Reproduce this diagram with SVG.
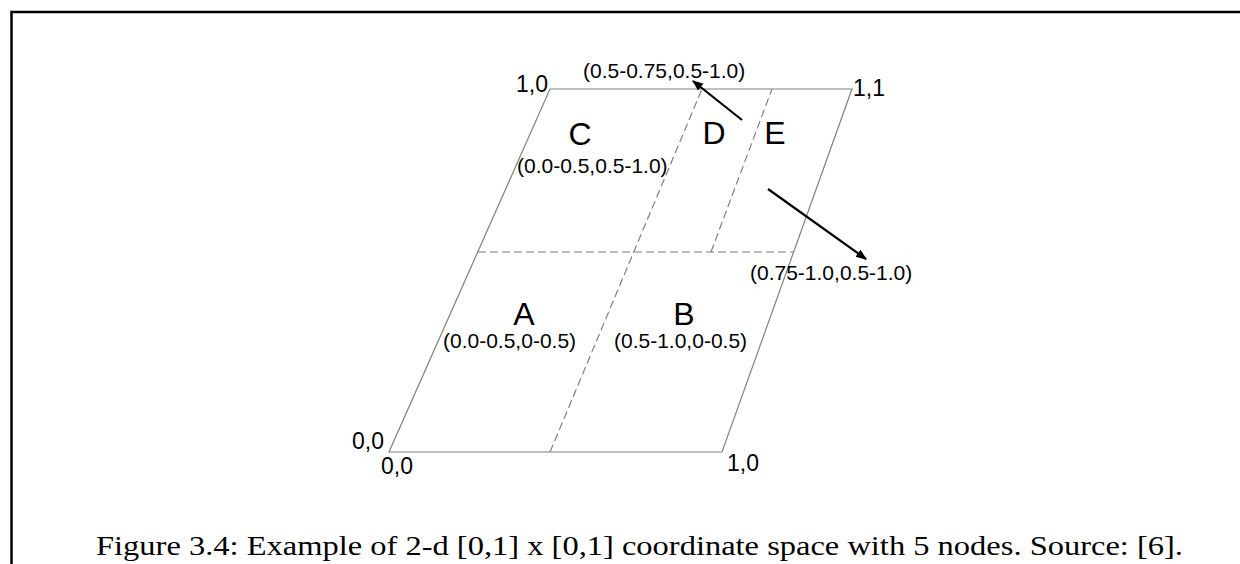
<svg xmlns="http://www.w3.org/2000/svg" width="1240" height="564" viewBox="0 0 1240 564">
<defs>
<style>
.frame{fill:none;stroke:#000;stroke-width:2.5}
.edge{fill:none;stroke:#808080;stroke-width:1.2}
.dash{fill:none;stroke:#808080;stroke-width:1.2;stroke-dasharray:8 4}
.arrow{fill:none;stroke:#000;stroke-width:2.2;marker-end:url(#ah)}
.corner{font-family:"Liberation Sans",Arial,sans-serif;font-size:23px;fill:#000}
.rng{font-family:"Liberation Sans",Arial,sans-serif;font-size:21px;fill:#000}
.big{font-family:"Liberation Sans",Arial,sans-serif;font-size:32px;fill:#000}
.cap{font-family:"Liberation Serif","Times New Roman",serif;font-size:28px;fill:#000}
</style>
<marker id="ah" viewBox="0 0 10 10" refX="9" refY="5" markerWidth="5" markerHeight="5" orient="auto" markerUnits="strokeWidth">
<path d="M0,1 L10,5 L0,9 Z" fill="#000"/>
</marker>
</defs>
<rect width="1240" height="564" fill="#fff"/>
<path class="frame" d="M11.5,564 V12 H1240"/>
<g id="space">
<path class="edge" d="M389,452 L722,452 L852,89 L550,89 Z"/>
<text class="corner" x="548" y="92" text-anchor="end">1,0</text>
<text class="corner" x="853" y="96">1,1</text>
<text class="corner" x="384" y="449" text-anchor="end">0,0</text>
<text class="corner" x="381" y="474">0,0</text>
<text class="corner" x="727" y="471">1,0</text>
</g>
<g id="partitions">
<path class="dash" d="M478,252 H794"/>
<path class="dash" d="M550,452 L702,89"/>
<path class="dash" d="M711,252 L772,89"/>
</g>
<g id="node-A">
<text class="big" x="524" y="325" text-anchor="middle">A</text>
<text class="rng" x="443" y="348">(0.0-0.5,0-0.5)</text>
</g>
<g id="node-B">
<text class="big" x="684" y="325" text-anchor="middle">B</text>
<text class="rng" x="614" y="348">(0.5-1.0,0-0.5)</text>
</g>
<g id="node-C">
<text class="big" x="580" y="145" text-anchor="middle">C</text>
<text class="rng" x="517" y="173">(0.0-0.5,0.5-1.0)</text>
</g>
<g id="node-D">
<text class="big" x="714" y="144" text-anchor="middle">D</text>
<text class="rng" x="583" y="78">(0.5-0.75,0.5-1.0)</text>
</g>
<g id="node-E">
<text class="big" x="775" y="144" text-anchor="middle">E</text>
<text class="rng" x="750" y="280">(0.75-1.0,0.5-1.0)</text>
</g>
<g id="connectors">
<path class="arrow" d="M742,120 L693,81"/>
<path class="arrow" d="M768,189 L866,259"/>
</g>
<text class="cap" x="96" y="555" textLength="1087" lengthAdjust="spacingAndGlyphs">Figure 3.4: Example of 2-d [0,1] x [0,1] coordinate space with 5 nodes. Source: [6].</text>
</svg>
